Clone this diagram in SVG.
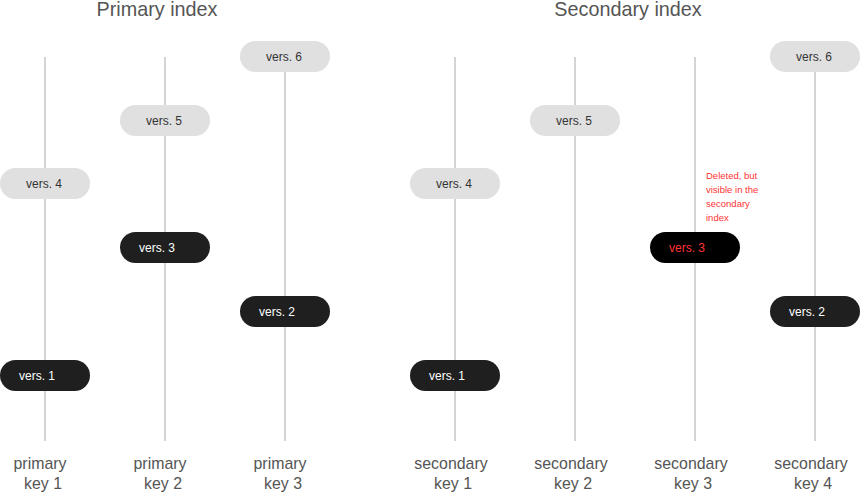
<svg xmlns="http://www.w3.org/2000/svg" width="860" height="493" viewBox="0 0 860 493">
<style>
.line{stroke:#d4d4d4;stroke-width:2;fill:none}
.light{fill:#e0e0e0}
.dark{fill:#1f1f1f}
.black{fill:#000}
.t{font-family:"Liberation Sans",Arial,sans-serif;font-size:12px;text-anchor:middle;dominant-baseline:central}
.tl{fill:#333}
.td{fill:#fff}
.tr{fill:#ff3333}
.title{font-family:"Liberation Sans",Arial,sans-serif;font-size:19.8px;fill:#555;text-anchor:middle}
.key{font-family:"Liberation Sans",Arial,sans-serif;font-size:15.9px;fill:#555;text-anchor:middle}
.note{font-family:"Liberation Sans",Arial,sans-serif;font-size:9.5px;fill:#ff3333}
</style>
<rect width="860" height="493" fill="#fff"/>
<text class="title" x="157" y="16">Primary index</text>
<text class="title" x="628" y="16">Secondary index</text>
<g id="connectors">
<line class="line" x1="45" y1="57" x2="45" y2="441"/>
<line class="line" x1="165" y1="57" x2="165" y2="441"/>
<line class="line" x1="285" y1="57" x2="285" y2="441"/>
<line class="line" x1="455" y1="57" x2="455" y2="441"/>
<line class="line" x1="575" y1="57" x2="575" y2="441"/>
<line class="line" x1="695" y1="57" x2="695" y2="441"/>
<line class="line" x1="815" y1="57" x2="815" y2="441"/>
</g>
<g id="p-v6"><rect class="light" x="240" y="41" width="90" height="31" rx="15.5"/><text class="t tl" x="284" y="57">vers. 6</text></g>
<g id="p-v5"><rect class="light" x="120" y="105" width="90" height="31" rx="15.5"/><text class="t tl" x="164" y="121">vers. 5</text></g>
<g id="p-v4"><rect class="light" x="0" y="168" width="90" height="31" rx="15.5"/><text class="t tl" x="44" y="184">vers. 4</text></g>
<g id="p-v3"><rect class="dark" x="120" y="232" width="90" height="31" rx="15.5"/><text class="t td" x="157" y="248">vers. 3</text></g>
<g id="p-v2"><rect class="dark" x="240" y="296" width="90" height="31" rx="15.5"/><text class="t td" x="277" y="312">vers. 2</text></g>
<g id="p-v1"><rect class="dark" x="0" y="360" width="90" height="31" rx="15.5"/><text class="t td" x="37" y="376">vers. 1</text></g>
<g id="s-v6"><rect class="light" x="770" y="41" width="90" height="31" rx="15.5"/><text class="t tl" x="814" y="57">vers. 6</text></g>
<g id="s-v5"><rect class="light" x="530" y="105" width="90" height="31" rx="15.5"/><text class="t tl" x="574" y="121">vers. 5</text></g>
<g id="s-v4"><rect class="light" x="410" y="168" width="90" height="31" rx="15.5"/><text class="t tl" x="454" y="184">vers. 4</text></g>
<g id="s-v3"><rect class="black" x="650" y="232" width="90" height="31" rx="15.5"/><text class="t tr" x="687" y="248">vers. 3</text></g>
<g id="s-v2"><rect class="dark" x="770" y="296" width="90" height="31" rx="15.5"/><text class="t td" x="807" y="312">vers. 2</text></g>
<g id="s-v1"><rect class="dark" x="410" y="360" width="90" height="31" rx="15.5"/><text class="t td" x="447" y="376">vers. 1</text></g>
<g id="note"><text class="note" x="706"><tspan x="706" y="179">Deleted, but</tspan><tspan x="706" y="193">visible in the</tspan><tspan x="706" y="207">secondary</tspan><tspan x="706" y="221">index</tspan></text></g>
<g id="keys">
<text class="key"><tspan x="40" y="469">primary</tspan><tspan x="43" y="489">key 1</tspan></text>
<text class="key"><tspan x="160" y="469">primary</tspan><tspan x="163" y="489">key 2</tspan></text>
<text class="key"><tspan x="280" y="469">primary</tspan><tspan x="283" y="489">key 3</tspan></text>
<text class="key"><tspan x="451" y="469">secondary</tspan><tspan x="453" y="489">key 1</tspan></text>
<text class="key"><tspan x="571" y="469">secondary</tspan><tspan x="573" y="489">key 2</tspan></text>
<text class="key"><tspan x="691" y="469">secondary</tspan><tspan x="693" y="489">key 3</tspan></text>
<text class="key"><tspan x="811" y="469">secondary</tspan><tspan x="813" y="489">key 4</tspan></text>
</g>
</svg>
